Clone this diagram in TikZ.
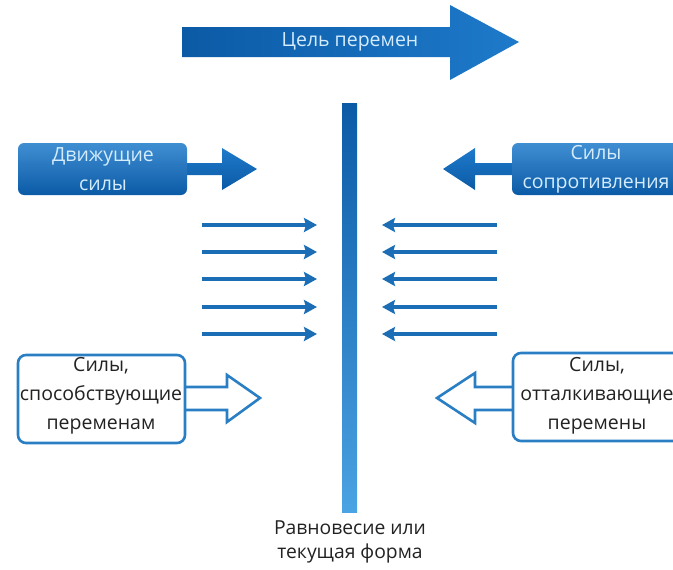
\documentclass[tikz,border=0pt]{standalone}
\usepackage{fontspec}
\setmainfont{Open Sans}
\usetikzlibrary{arrows.meta}
\definecolor{dblue}{HTML}{0B5AA6}
\definecolor{mblue}{HTML}{1E7ACA}
\definecolor{lblue}{HTML}{4AA3E2}
\definecolor{ltext}{HTML}{D4ECFC}
\definecolor{outl}{HTML}{2A7FC4}
\definecolor{dtext}{HTML}{222222}
\tikzset{
  lbl/.style={font=\fontsize{19.5}{29}\selectfont, align=center, inner sep=0pt},
  darklbl/.style={lbl, text=ltext},
  blacklbl/.style={lbl, text=dtext},
  fillbox/.style={rounded corners=6pt, top color=mblue!85!white, bottom color=dblue},
  outbox/.style={rounded corners=8pt, draw=outl, line width=2.6pt, fill=white},
  outarrow/.style={draw=outl, line width=2.6pt, fill=white, line join=miter},
  force/.style={draw=mblue!90!black, line width=4.5pt, -{Stealth[length=13pt,width=14pt,inset=2pt]}},
}
\begin{document}
\begin{tikzpicture}[x=1pt,y=-1pt]
\useasboundingbox (0,0) rectangle (673,570);
\clip (0,0) rectangle (673,570);
% top arrow
\shade[left color=dblue, right color=mblue]
  (182,27) -- (450,27) -- (450,5) -- (519,42) -- (450,80) -- (450,57) -- (182,57) -- cycle;
\node[darklbl] (goal) at (350,42) {Цель перемен};
% vertical bar
\shade[top color=dblue, bottom color=lblue] (342,103) rectangle (357,512);
\coordinate (bartop) at (349.5,103);
% top-left box + arrow
\shade[top color=mblue, bottom color=dblue]
  (185,163) -- (222,163) -- (222,148) -- (257,169) -- (222,190) -- (222,175) -- (185,175) -- cycle;
\shade[fillbox] (18,143) rectangle (187,195);
\node[darklbl] (drive) at (103,169) {Движущие\\силы};
% top-right box + arrow
\shade[top color=mblue, bottom color=dblue]
  (514,163) -- (475,163) -- (475,148) -- (443,169) -- (475,190) -- (475,175) -- (514,175) -- cycle;
\shade[fillbox] (512,143) rectangle (690,195);
\node[darklbl] (resist) at (596,169) {Силы\\сопротивления};
% horizontal arrows
\foreach \i/\yy in {1/225,2/252,3/279,4/307,5/334}{
  \coordinate (la\i) at (202,\yy);
  \coordinate (lb\i) at (317,\yy);
  \coordinate (ra\i) at (497,\yy);
  \coordinate (rb\i) at (382,\yy);
  \draw[force] (la\i) -- (lb\i);
  \draw[force] (ra\i) -- (rb\i);
}
% bottom-left box
\draw[outarrow] (180,387) -- (227,387) -- (227,375) -- (260,398) -- (227,422) -- (227,410) -- (180,410);
\draw[outbox] (18,355) rectangle (185,443);
\node[blacklbl] (promote) at (101,396) {Силы,\\способствующие\\переменам};
% bottom-right box
\draw[outarrow] (518,387) -- (475,387) -- (475,373) -- (437,398) -- (475,423) -- (475,410) -- (518,410);
\draw[outbox] (513,353) rectangle (690,441);
\node[blacklbl] (repel) at (597,396) {Силы,\\отталкивающие\\перемены};
% bottom label
\node[blacklbl, font=\fontsize{19.3}{24}\selectfont] (eq) at (350,542) {Равновесие или\\текущая форма};
\end{tikzpicture}
\end{document}
